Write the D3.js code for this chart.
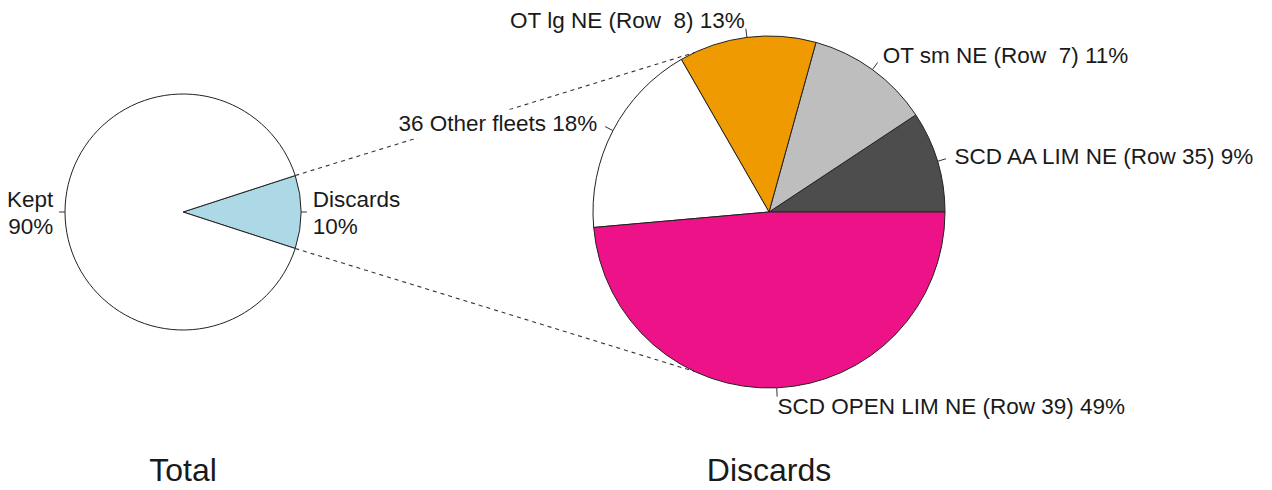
<!DOCTYPE html>
<html>
<head>
<meta charset="utf-8">
<script src="https://cdn.jsdelivr.net/npm/d3@7"></script>
<style>
  body { margin: 0; background: #fff; }
  svg text { font-family: "Liberation Sans", Arial, sans-serif; fill: #1a1a1a; white-space: pre; }
</style>
</head>
<body>
<svg id="chart" width="1272" height="490"></svg>
<script>
// total catch split
const totalLabels = ["Discards", "Kept"];
const totalValues = [10, 90];
const totalColors = ["#add8e6", "#ffffff"];

// discards by fleet
const fleetLabels = [
  "SCD AA LIM NE (Row 35)",
  "OT sm NE (Row  7)",
  "OT lg NE (Row  8)",
  "36 Other fleets",
  "SCD OPEN LIM NE (Row 39)"
];
const fleetValues = [9.3, 11.4, 12.6, 18.1, 48.6];
const fleetColors = ["#4d4d4d", "#bebebe", "#ee9a00", "#ffffff", "#ee1289"];

const titles = ["Total", "Discards"];

const svg = d3.select("#chart");
const deg = Math.PI / 180;

const left = {cx: 183, cy: 212, r: 118};
const right = {cx: 769, cy: 212, r: 176};

// math angle (ccw from 3 o'clock) -> d3 angle
const toD3 = a => Math.PI / 2 - a;
const pt = (p, a, k) => [p.cx + k * p.r * Math.cos(a), p.cy - k * p.r * Math.sin(a)];

// slices go counterclockwise, like R's pie()
const leftStart = -18 * deg;
const pieLeft = d3.pie().sort(null).value(d => d)
  .startAngle(toD3(leftStart)).endAngle(toD3(leftStart) - 2 * Math.PI);
const pieRight = d3.pie().sort(null).value(d => d)
  .startAngle(toD3(0)).endAngle(toD3(0) - 2 * Math.PI);

// connector lines from the discards slice to the second pie
const gLines = svg.append("g");
const sliceL = pieLeft(totalValues)[0];
const aTop = Math.PI / 2 - sliceL.endAngle, aBot = Math.PI / 2 - sliceL.startAngle;
[[aTop, 115 * deg], [aBot, 245 * deg]].forEach(([a1, a2]) => {
  const p1 = pt(left, a1, 1), p2 = pt(right, a2, 1);
  gLines.append("line")
    .attr("x1", p1[0]).attr("y1", p1[1])
    .attr("x2", p2[0]).attr("y2", p2[1])
    .attr("stroke", "#333").attr("stroke-width", 1.1)
    .attr("stroke-dasharray", "4,4");
});

function drawPie(p, pie, values, colors, labels, multiline) {
  const g = svg.append("g").attr("transform", `translate(${p.cx},${p.cy})`);
  const arc = d3.arc().innerRadius(0).outerRadius(p.r);
  const arcs = pie(values);
  const total = d3.sum(values);

  const lab = svg.append("g");

  g.selectAll("path").data(arcs).enter().append("path")
    .attr("d", arc)
    .attr("fill", (d, i) => colors[i])
    .attr("stroke", "#222").attr("stroke-width", 1);

  arcs.forEach((d, i) => {
    const mid = Math.PI / 2 - (d.startAngle + d.endAngle) / 2;
    const a = pt(p, mid, 1), b = pt(p, mid, 1.05), c = pt(p, mid, 1.1);
    svg.append("line")
      .attr("x1", a[0]).attr("y1", a[1]).attr("x2", b[0]).attr("y2", b[1])
      .attr("stroke", "#333").attr("stroke-width", 1);
    const anchor = Math.cos(mid) < 0 ? "end" : "start";
    const pct = Math.round(100 * values[i] / total) + "%";
    const t = lab.append("text")
      .attr("x", c[0]).attr("y", c[1])
      .attr("text-anchor", anchor)
      .attr("font-size", 22.5);
    if (multiline) {
      t.append("tspan").attr("x", c[0]).attr("dy", "-0.21em").text(labels[i]);
      t.append("tspan").attr("x", c[0]).attr("dy", "1.18em").text(pct);
    } else {
      t.attr("dy", "0.36em").text(labels[i] + " " + pct);
    }
    // white box behind this label hides the connector
    if (labels[i] === "36 Other fleets") {
      const bb = t.node().getBBox();
      lab.insert("rect", "text")
        .attr("x", bb.x - 4).attr("y", bb.y - 1)
        .attr("width", bb.width + 8).attr("height", bb.height + 4)
        .attr("fill", "#fff");
    }
  });
  lab.raise();
}

drawPie(left, pieLeft, totalValues, totalColors, totalLabels, true);
drawPie(right, pieRight, fleetValues, fleetColors, fleetLabels, false);

svg.selectAll("text.title").data(titles).enter().append("text")
  .attr("class", "title")
  .attr("x", (d, i) => i === 0 ? left.cx : right.cx)
  .attr("y", 481)
  .attr("text-anchor", "middle")
  .attr("font-size", 32)
  .text(d => d);
</script>
</body>
</html>
